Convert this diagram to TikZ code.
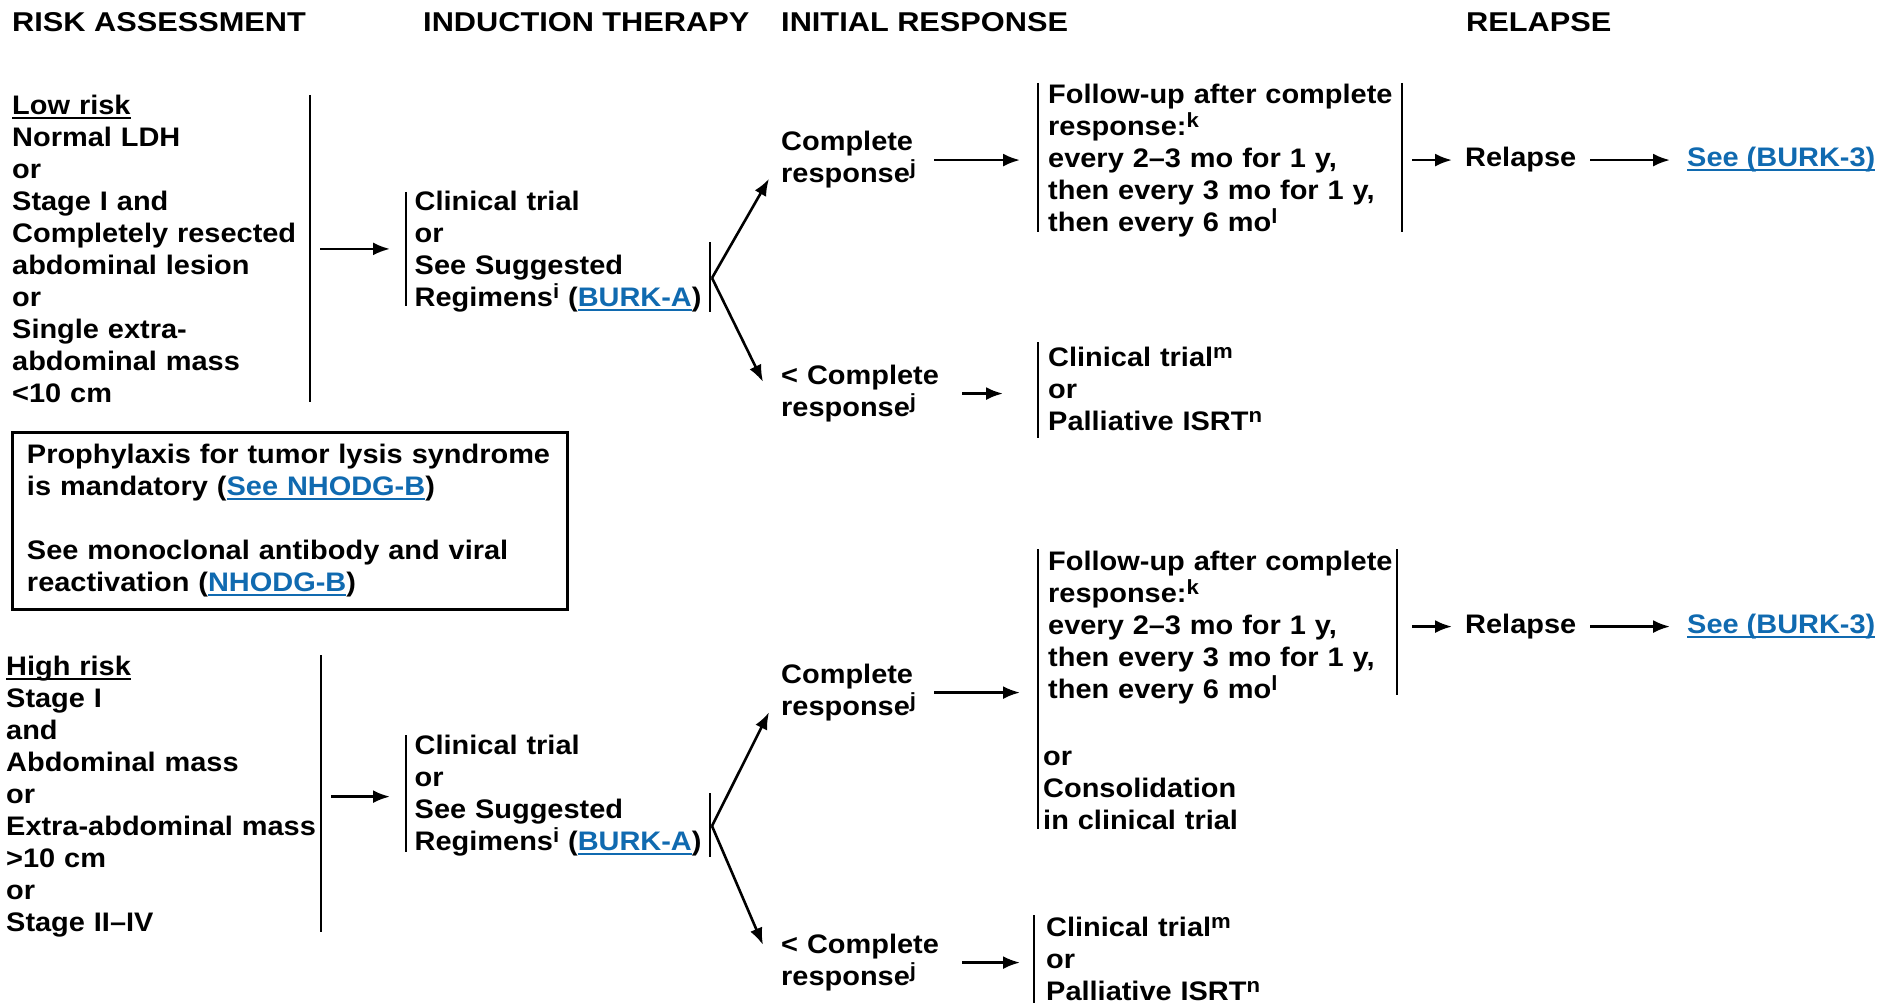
\documentclass[tikz,border=0pt]{standalone}
\usepackage{fontspec}
\setmainfont{Liberation Sans}[FakeStretch=1.08]
\newfontfamily\hdfont{Liberation Sans}[FakeStretch=1.13]
\usetikzlibrary{arrows.meta}
\definecolor{linkblue}{RGB}{16,106,176}
\newcommand{\uln}[1]{\setbox0\hbox{#1}\rlap{\rule[-4.5pt]{\wd0}{2pt}}\box0}
\newcommand{\lnk}[1]{\textcolor{linkblue}{\uln{#1}}}
\newcommand{\sups}[1]{\raisebox{8pt}{\fontsize{20.5}{20.5}\selectfont #1}}

\begin{document}
\begin{tikzpicture}[x=1pt,y=-1pt,
	txt/.style={anchor=base west,inner sep=0pt,align=left,font=\fontsize{26.8}{32}\selectfont\bfseries},
	one/.style={anchor=base west,inner sep=0pt,font=\fontsize{26.8}{32}\selectfont\bfseries},
	head/.style={anchor=base west,inner sep=0pt,font=\hdfont\fontsize{27.2}{32}\selectfont\bfseries},
	bar/.style={line width=2.5pt},
	arr/.style={-{Latex[length=17pt,width=13pt]},line width=2.6pt}]
	\useasboundingbox (0,0) rectangle (1878,1003);
	\node[head] (hrisk) at (12,32) {RISK ASSESSMENT};
	\node[head] (hind) at (423,32) {INDUCTION THERAPY};
	\node[head] (hresp) at (781,32) {INITIAL RESPONSE};
	\node[head] (hrel) at (1466,32) {RELAPSE};
	\node[txt,text width=290pt] (low) at (12,114.5) {\uln{Low risk}\\Normal LDH\\or\\Stage I and\\Completely resected\\abdominal lesion\\or\\Single extra-\\abdominal mass\\<10 cm};
	\node[txt,text width=300pt] (ind1) at (414.5,211) {Clinical trial\\or\\See Suggested\\Regimens\sups{i} (\lnk{BURK-A})};
	\node[txt,text width=140pt] (cr1) at (781,151) {Complete\\response\sups{j}};
	\node[txt,text width=160pt] (lr1) at (781,384.5) {< Complete\\response\sups{j}};
	\node[txt,text width=354pt] (fu1) at (1048,104) {Follow-up after complete\\response:\sups{k}\\every 2--3 mo for 1 y,\\then every 3 mo for 1 y,\\then every 6 mo\sups{l}};
	\node[txt,text width=300pt] (ct1) at (1048,366.5) {Clinical trial\sups{m}\\or\\Palliative ISRT\sups{n}};
	\node[one] (rel1) at (1465,167) {Relapse};
	\node[one] (see1) at (1687,167) {\lnk{See (BURK-3)}};
	\node[txt,draw,line width=3pt,anchor=north west,text width=525.5pt,inner xsep=15pt,inner ysep=0pt,minimum height=177pt] (note) at (10.5,431) {Prophylaxis for tumor lysis syndrome\\is mandatory (\lnk{See NHODG-B})\\[32pt]See monoclonal antibody and viral\\reactivation (\lnk{NHODG-B})};
	\node[txt,text width=310pt] (high) at (6,675.5) {\uln{High risk}\\Stage I\\and\\Abdominal mass\\or\\Extra-abdominal mass\\>10 cm\\or\\Stage II--IV};
	\node[txt,text width=300pt] (ind2) at (414.5,754.5) {Clinical trial\\or\\See Suggested\\Regimens\sups{i} (\lnk{BURK-A})};
	\node[txt,text width=140pt] (cr2) at (781,683.5) {Complete\\response\sups{j}};
	\node[txt,text width=160pt] (lr2) at (781,953.5) {< Complete\\response\sups{j}};
	\node[txt,text width=348pt] (fu2) at (1048,570) {Follow-up after complete\\response:\sups{k}\\every 2--3 mo for 1 y,\\then every 3 mo for 1 y,\\then every 6 mo\sups{l}};
	\node[txt,text width=220pt] (fu2b) at (1043,765) {or\\Consolidation\\in clinical trial};
	\node[txt,text width=300pt] (ct2) at (1046,936.5) {Clinical trial\sups{m}\\or\\Palliative ISRT\sups{n}};
	\node[one] (rel2) at (1465,633.5) {Relapse};
	\node[one] (see2) at (1687,633.5) {\lnk{See (BURK-3)}};
	\coordinate (f1) at (712,278);
	\coordinate (f2) at (712,826);
	\draw[bar] (310,95) -- (310,402);
	\draw[bar] (406,192) -- (406,306);
	\draw[bar] (710,242) -- (710,312);
	\draw[bar] (1038,83) -- (1038,232);
	\draw[bar] (1402,83) -- (1402,232);
	\draw[bar] (1038,342) -- (1038,438);
	\draw[bar] (321,655) -- (321,932);
	\draw[bar] (406,735) -- (406,852);
	\draw[bar] (710,793) -- (710,857);
	\draw[bar] (1038,549) -- (1038,829);
	\draw[bar] (1397,549) -- (1397,695);
	\draw[bar] (1034,915) -- (1034,1003);
	\draw[arr,shorten <=18pt,shorten >=24.5pt] (low.east) -- (low.east -| ind1.west);
	\draw[arr] (f1) -- ([xshift=-12pt,yshift=10pt]cr1.south west);
	\draw[arr] (f1) -- ([xshift=-18pt,yshift=-17pt]lr1.north west);
	\draw[arr,shorten <=13pt,shorten >=28pt] (cr1.east) -- (cr1.east -| fu1.west);
	\draw[arr,shorten <=21pt,shorten >=45pt] (lr1.east) -- (lr1.east -| ct1.west);
	\draw[arr,shorten <=10pt,shorten >=13pt] (rel1.west -| fu1.east) -- (rel1.west);
	\draw[arr,shorten <=14pt,shorten >=17pt] (rel1.east) -- (see1.west);
	\draw[arr,shorten <=15pt,shorten >=24.5pt] (high.east) -- (high.east -| ind2.west);
	\draw[arr] (f2) -- ([xshift=-12pt,yshift=9pt]cr2.south west);
	\draw[arr] (f2) -- ([xshift=-18pt,yshift=-11pt]lr2.north west);
	\draw[arr,shorten <=13pt,shorten >=28pt] (cr2.east) -- (cr2.east -| fu2.west);
	\draw[arr,shorten <=21pt,shorten >=26pt] (lr2.east) -- (lr2.east -| ct2.west);
	\draw[arr,shorten <=16pt,shorten >=13pt] (rel2.west -| fu2.east) -- (rel2.west);
	\draw[arr,shorten <=14pt,shorten >=17pt] (rel2.east) -- (see2.west);
\end{tikzpicture}
\end{document}
